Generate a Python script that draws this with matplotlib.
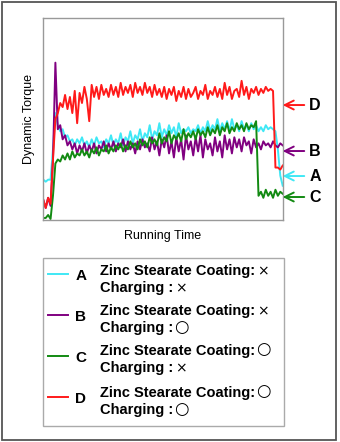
import matplotlib
matplotlib.use("Agg")
import matplotlib.pyplot as plt
from matplotlib.patches import Rectangle
import numpy as np

plt.rcParams['font.family'] = ['Liberation Sans', 'DejaVu Sans']

# torque readings (relative units, 0-100) sampled along running time
torque_a = [20, 19, 20, 20, 35, 53, 47, 44, 45, 41,
            42, 39, 40, 37, 40, 38, 41, 37, 39, 36,
            40, 37, 41, 38, 39, 36, 40, 38, 42, 37,
            40, 38, 43, 37, 41, 39, 44, 38, 42, 40,
            45, 39, 43, 41, 47, 40, 44, 42, 48, 41,
            45, 42, 47, 43, 46, 41, 48, 43, 45, 44,
            46, 43, 45, 44, 47, 43, 46, 44, 49, 44,
            47, 45, 50, 44, 48, 45, 49, 44, 50, 45,
            47, 44, 49, 45, 47, 44, 48, 45, 47, 44,
            46, 44, 47, 45, 46, 45, 44, 35, 22, 17]
torque_b = [10, 6, 11, 7, 30, 78, 45, 47, 40, 42,
            37, 39, 35, 38, 33, 37, 34, 38, 33, 37,
            34, 38, 33, 37, 35, 39, 34, 38, 35, 39,
            34, 38, 36, 40, 34, 39, 35, 38, 33, 39,
            35, 40, 36, 38, 34, 41, 35, 39, 32, 40,
            36, 42, 33, 39, 31, 41, 34, 40, 30, 42,
            35, 39, 32, 41, 34, 42, 31, 40, 35, 38,
            32, 41, 34, 39, 31, 42, 35, 40, 33, 41,
            36, 40, 34, 41, 37, 39, 33, 40, 36, 38,
            35, 39, 37, 38, 36, 39, 37, 36, 38, 37]
torque_c = [1, 1, 2.5, 0.5, 12, 28, 30, 29, 32, 30,
            33, 30, 34, 31, 33, 32, 35, 32, 34, 31,
            35, 33, 36, 32, 35, 34, 37, 33, 36, 34,
            37, 35, 38, 34, 37, 35, 39, 36, 38, 35,
            40, 37, 39, 36, 41, 38, 40, 37, 43, 38,
            41, 39, 44, 38, 42, 40, 43, 39, 45, 40,
            43, 41, 44, 40, 45, 42, 44, 41, 46, 42,
            45, 43, 47, 42, 46, 44, 48, 43, 46, 44,
            48, 45, 47, 44, 48, 45, 47, 46, 49, 12,
            14, 11, 15, 12, 14, 11, 15, 12, 14, 13]
torque_d = [10, 6, 11, 8, 30, 50, 53, 58, 56, 62,
            55, 61, 53, 64, 48, 63, 58, 66, 60, 49,
            67, 61, 66, 60, 67, 62, 65, 61, 67, 62,
            66, 61, 68, 62, 66, 63, 67, 61, 68, 63,
            66, 62, 68, 63, 66, 61, 67, 62, 65, 61,
            66, 60, 65, 62, 66, 59, 64, 61, 66, 60,
            65, 61, 63, 66, 60, 64, 62, 67, 60, 64,
            62, 66, 61, 65, 60, 68, 62, 66, 60, 64,
            65, 61, 69, 62, 66, 60, 65, 63, 66, 62,
            65, 63, 66, 64, 65, 64, 26, 26, 25, 27]

names = ['A', 'B', 'C', 'D']
colors = ['#3FE8F5', '#800080', '#128A12', '#FF1A1A']
coating = ['×', '×', '○', '○']
charging = ['×', '○', '×', '○']
# where the right-hand arrow labels sit (axes fraction)
arrow_y = [0.218, 0.342, 0.114, 0.570]

t = np.arange(len(torque_a))

fig = plt.figure(figsize=(3.4, 4.42), dpi=100)

# background layer in pixel coords for frame + legend
bg = fig.add_axes([0, 0, 1, 1], zorder=0)
bg.set_xlim(0, 340)
bg.set_ylim(442, 0)
bg.axis('off')
bg.add_patch(Rectangle((2, 2), 334, 438, fill=False, edgecolor='#555555', lw=1.3))

ax = fig.add_axes([43.3/340, 1 - 220/442, 239.4/340, 201.7/442], zorder=1)
for vals, c in zip([torque_a, torque_b, torque_c, torque_d], colors):
    ax.plot(t, vals, color=c, lw=1.4)
ax.set_xlim(0, len(t) - 1)
ax.set_ylim(0, 100)
ax.set_xticks([])
ax.set_yticks([])
for s in ax.spines.values():
    s.set_color('#999999')
    s.set_linewidth(1.0)
ax.set_xlabel('Running Time', fontsize=9, labelpad=7)
ax.set_ylabel('Dynamic Torque', fontsize=9, labelpad=6)

for n, c, yf in zip(names, colors, arrow_y):
    ax.annotate('', xy=(1.0, yf), xytext=(1.09, yf), xycoords='axes fraction',
                arrowprops=dict(arrowstyle='->', color=c, lw=1.4,
                                mutation_scale=16, shrinkA=0, shrinkB=0),
                annotation_clip=False)
    ax.text(1.135, yf, n, transform=ax.transAxes, fontsize=11.5,
            fontweight='bold', ha='center', va='center')

# legend box
bg.add_patch(Rectangle((43, 258), 241, 168, fill=False, edgecolor='#aaaaaa', lw=1.0))
line_y = [274, 315, 356, 397]
text_y = [271, 311, 351, 393]
renderer = fig.canvas.get_renderer()


def put_symbol(label, sym, y):
    # place the ×/○ mark right after a bold label
    bb = label.get_window_extent(renderer=renderer)
    x = bb.x1 + 1
    if sym == '○':
        bg.text(x, y - 1.5, sym, fontsize=12, ha='left', va='center',
                family='DejaVu Sans')
    else:
        bg.text(x + 1, y, sym, fontsize=10, ha='left', va='center',
                family='DejaVu Sans')


for i in range(4):
    bg.plot([48, 68], [line_y[i], line_y[i]], color=colors[i], lw=1.4)
    bg.text(81, line_y[i] + 2, names[i], fontsize=11, fontweight='bold',
            ha='center', va='center')
    l1 = bg.text(100, text_y[i], 'Zinc Stearate Coating:', fontsize=10.5,
                 fontweight='bold', ha='left', va='center')
    l2 = bg.text(100, text_y[i] + 17, 'Charging :', fontsize=10.5,
                 fontweight='bold', ha='left', va='center')
    put_symbol(l1, coating[i], text_y[i])
    put_symbol(l2, charging[i], text_y[i] + 17)

fig.savefig('out.png', dpi=100)
